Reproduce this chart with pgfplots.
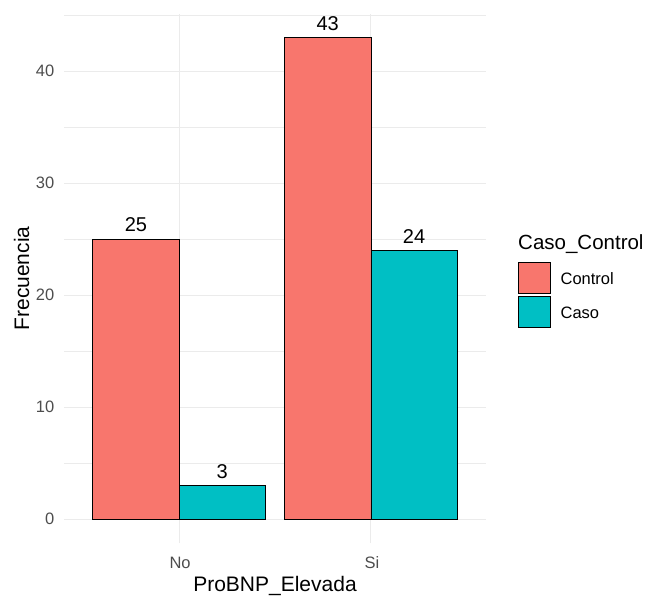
\documentclass[border=0pt]{standalone}
\usepackage{fontspec}
\setmainfont{Liberation Sans}
\usepackage{pgfplots}
\pgfplotsset{compat=1.18}
\definecolor{ctrl}{HTML}{F8766D}
\definecolor{caso}{HTML}{00BFC4}
\definecolor{gridc}{HTML}{EBEBEB}
\definecolor{tickc}{HTML}{4D4D4D}
\begin{document}
\begin{tikzpicture}
\useasboundingbox (0pt,0pt) rectangle (647pt,596pt);
\begin{axis}[
  at={(64pt,52.6pt)}, anchor=south west,
  scale only axis, width=422pt, height=529.8pt,
  xmin=0.4, xmax=2.6, ymin=-2.15, ymax=45.15,
  ybar=0pt, bar width=0.45,
  xtick={1,2}, xticklabels={No,Si},
  ytick={0,10,20,30,40}, minor ytick={5,15,25,35,45},
  grid=both,
  major grid style={draw=gridc, line width=1pt},
  minor grid style={draw=gridc, line width=0.6pt},
  axis line style={draw=none},
  tick style={draw=none},
  /pgf/number format/assume math mode=true,
  ticklabel style={font=\fontsize{16.5}{18}\selectfont, text=tickc, inner sep=0pt},
  yticklabel style={anchor=east, xshift=-9.5pt},
  xticklabel style={anchor=north, yshift=-9pt, xshift=1pt},
  nodes near coords,
  nodes near coords style={font=\fontsize{20}{22}\selectfont, text=black, anchor=south, inner sep=0pt, yshift=7pt},
  legend image code/.code={\draw[#1, draw=black, line width=0.6pt] (0pt,-14pt) rectangle (32pt,17pt);},
  legend cell align=left,
  legend style={at={(1.0758,0.5311)}, anchor=north west, draw=none, fill=none, inner sep=0pt, outer sep=0pt, row sep=2.5pt, column sep=10pt,
    nodes={inner sep=0pt, font=\fontsize{16.5}{18}\selectfont}},
]
\addplot[fill=ctrl, draw=black, line width=0.6pt] coordinates {(1,25) (2,43)};
\addplot[fill=caso, draw=black, line width=0.6pt] coordinates {(1,3) (2,24)};
\legend{Control,Caso}
\end{axis}
\node[anchor=base west, inner sep=0pt, font=\fontsize{20.5}{22}\selectfont] at (518pt,346pt) {Caso\_Control};
\node[anchor=base, inner sep=0pt, font=\fontsize{21}{23}\selectfont] at (275pt,4pt) {ProBNP\_Elevada};
\node[anchor=base, rotate=90, inner sep=0pt, font=\fontsize{21}{23}\selectfont] at (29pt,317.5pt) {Frecuencia};
\end{tikzpicture}
\end{document}
